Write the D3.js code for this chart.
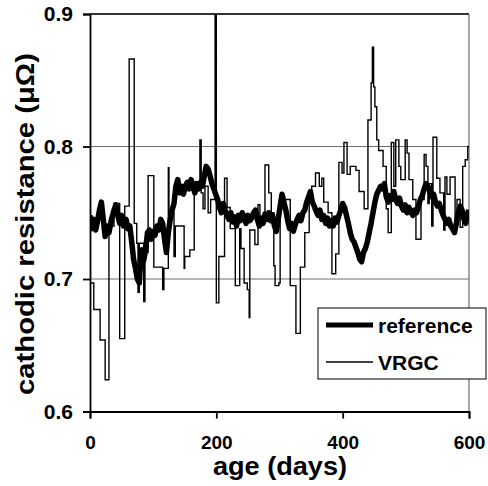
<!DOCTYPE html>
<html>
<head>
<meta charset="utf-8">
<script src="https://cdnjs.cloudflare.com/ajax/libs/d3/7.8.5/d3.min.js"></script>
<style>
    body { margin: 0; background: #fff; }
    text { font-family: "Liberation Sans", Arial, sans-serif; font-weight: bold; fill: #000; }
</style>
</head>
<body>
<div id="chart"></div>
<script>

// values (day, resistance in micro-ohm)
var refDays = [0, 3, 6, 9, 12, 15, 18, 21, 24, 27, 30, 34, 38, 41, 44, 47, 50, 53, 57, 60,
    63, 66, 69, 72, 75, 78, 80, 82, 85, 88, 91, 94, 97, 100, 103, 106, 109, 112, 115, 118,
    121, 124, 127, 130, 133, 136, 139, 142, 145, 148, 151, 154, 157, 160, 163, 166, 169, 172, 175, 178,
    181, 184, 187, 190, 193, 196, 199, 202, 205, 208, 211, 214, 217, 220, 223, 226, 229, 232, 235, 238,
    241, 244, 247, 250, 253, 256, 259, 262, 265, 268, 271, 274, 277, 280, 283, 286, 289, 292, 295, 298,
    301, 304, 307, 310, 313, 316, 319, 322, 325, 328, 331, 334, 337, 340, 343, 346, 349, 352, 355, 358,
    361, 364, 367, 370, 373, 376, 379, 382, 385, 388, 391, 394, 397, 400, 403, 406, 409, 412, 415, 418,
    421, 424, 427, 430, 433, 436, 439, 442, 445, 448, 451, 454, 457, 460, 463, 466, 469, 472, 475, 478,
    481, 484, 487, 490, 493, 496, 499, 502, 505, 508, 511, 514, 517, 520, 523, 526, 529, 532, 535, 538,
    541, 544, 547, 550, 553, 556, 559, 562, 565, 568, 571, 574, 577, 580, 583, 586, 589, 592, 595, 598, 600];
var refValues = [0.748, 0.738, 0.745, 0.737, 0.744, 0.752, 0.758, 0.745, 0.732, 0.740, 0.735, 0.745, 0.752, 0.756, 0.748, 0.742, 0.748, 0.740, 0.745, 0.738,
    0.740, 0.728, 0.715, 0.708, 0.700, 0.697, 0.712, 0.722, 0.714, 0.722, 0.735, 0.737, 0.730, 0.736, 0.733, 0.740, 0.737, 0.745, 0.742, 0.730,
    0.720, 0.735, 0.745, 0.752, 0.757, 0.770, 0.775, 0.765, 0.770, 0.764, 0.770, 0.773, 0.768, 0.775, 0.770, 0.765, 0.772, 0.768, 0.773, 0.770,
    0.778, 0.785, 0.783, 0.778, 0.772, 0.768, 0.764, 0.760, 0.754, 0.750, 0.757, 0.752, 0.748, 0.745, 0.750, 0.743, 0.747, 0.740, 0.748, 0.744,
    0.750, 0.746, 0.742, 0.748, 0.744, 0.746, 0.750, 0.752, 0.745, 0.740, 0.746, 0.742, 0.749, 0.745, 0.750, 0.744, 0.748, 0.740, 0.736, 0.745,
    0.755, 0.764, 0.758, 0.752, 0.744, 0.738, 0.742, 0.736, 0.741, 0.745, 0.748, 0.744, 0.750, 0.752, 0.758, 0.762, 0.766, 0.758, 0.755, 0.751,
    0.748, 0.752, 0.745, 0.748, 0.742, 0.746, 0.740, 0.744, 0.740, 0.746, 0.743, 0.748, 0.752, 0.757, 0.754, 0.748, 0.742, 0.735, 0.730, 0.728,
    0.724, 0.720, 0.715, 0.713, 0.720, 0.723, 0.728, 0.735, 0.742, 0.750, 0.758, 0.764, 0.767, 0.770, 0.768, 0.772, 0.762, 0.758, 0.763, 0.760,
    0.766, 0.760, 0.757, 0.761, 0.755, 0.752, 0.756, 0.750, 0.754, 0.751, 0.748, 0.752, 0.750, 0.755, 0.760, 0.763, 0.768, 0.772, 0.770, 0.766,
    0.762, 0.764, 0.758, 0.755, 0.757, 0.752, 0.748, 0.745, 0.742, 0.745, 0.740, 0.738, 0.735, 0.742, 0.750, 0.755, 0.752, 0.745, 0.742, 0.750, 0.752];

var vrgcDays = [0, 6, 16, 24, 30, 38, 47, 55, 62, 70, 74, 76, 78, 85, 87, 92, 101, 115, 117, 124,
    125, 133, 135, 149, 150, 158, 165, 174, 176, 179, 182, 187, 191, 198, 200, 204, 213, 217, 222, 230,
    237, 239, 244, 249, 252, 253, 261, 266, 269, 277, 283, 287, 291, 293, 299, 301, 307, 317, 326, 333,
    340, 347, 351, 357, 363, 367, 370, 377, 383, 389, 394, 399, 402, 407, 412, 421, 426, 434, 440, 445,
    447, 449, 451, 454, 457, 464, 469, 472, 477, 481, 484, 489, 492, 499, 502, 505, 511, 516, 524, 529,
    532, 535, 537, 541, 543, 549, 554, 560, 562, 565, 570, 578, 581, 586, 590, 594, 598, 600];
var vrgcValues = [0.697, 0.677, 0.654, 0.624, 0.740, 0.757, 0.655, 0.755, 0.866, 0.742, 0.727, 0.690, 0.727, 0.683, 0.720, 0.778, 0.709, 0.692, 0.708, 0.784,
    0.750, 0.717, 0.740, 0.708, 0.717, 0.722, 0.773, 0.805, 0.765, 0.753, 0.770, 0.750, 0.760, 0.950, 0.682, 0.717, 0.776, 0.754, 0.738, 0.695,
    0.738, 0.723, 0.697, 0.692, 0.671, 0.737, 0.726, 0.756, 0.745, 0.786, 0.765, 0.750, 0.710, 0.695, 0.697, 0.756, 0.760, 0.695, 0.659, 0.709,
    0.735, 0.762, 0.770, 0.780, 0.770, 0.776, 0.758, 0.750, 0.704, 0.719, 0.788, 0.780, 0.803, 0.779, 0.785, 0.782, 0.766, 0.753, 0.820, 0.848,
    0.875, 0.845, 0.830, 0.805, 0.797, 0.785, 0.753, 0.735, 0.803, 0.770, 0.805, 0.785, 0.775, 0.805, 0.795, 0.775, 0.760, 0.730, 0.760, 0.794,
    0.785, 0.757, 0.772, 0.740, 0.807, 0.776, 0.765, 0.737, 0.777, 0.764, 0.777, 0.742, 0.760, 0.739, 0.785, 0.790, 0.800, 0.800];

var seriesNames = ["reference", "VRGC"];
var xTickValues = [0, 200, 400, 600];
var yTickValues = [0.6, 0.7, 0.8, 0.9];
var gridValues = [0.7, 0.8];


/*
 * LineChart - Object constructor function
 * @param _parentElement 	-- the HTML element in which to draw the visualization
 */

LineChart = function(_parentElement){
    this.parentElement = _parentElement;

    this.initVis();
}


LineChart.prototype.initVis = function(){
    var vis = this;

    vis.margin = { top: 14, right: 19, bottom: 74.5, left: 90 };

    vis.width = 488 - vis.margin.left - vis.margin.right;
    vis.height = 486 - vis.margin.top - vis.margin.bottom;

    vis.root = d3.select("#" + vis.parentElement).append("svg")
        .attr("width", 488)
        .attr("height", 486);

    vis.svg = vis.root.append("g")
        .attr("transform", "translate(" + vis.margin.left + "," + vis.margin.top + ")");

    vis.x = d3.scaleLinear()
        .domain([0, 600])
        .range([0, vis.width]);

    vis.y = d3.scaleLinear()
        .domain([0.6, 0.9])
        .range([vis.height, 0]);

    vis.svg.append("clipPath")
        .attr("id", "plot-clip")
        .append("rect")
        .attr("width", vis.width)
        .attr("height", vis.height);

    // gridlines + frame
    vis.svg.selectAll(".grid")
        .data(gridValues)
        .enter().append("line")
        .attr("class", "grid")
        .attr("x1", 0)
        .attr("x2", vis.width)
        .attr("y1", function(d) { return vis.y(d); })
        .attr("y2", function(d) { return vis.y(d); })
        .attr("stroke", "#6e6e6e")
        .attr("stroke-width", 1.2);

    vis.svg.append("line")
        .attr("x1", 0).attr("x2", vis.width)
        .attr("y1", vis.y(0.9)).attr("y2", vis.y(0.9))
        .attr("stroke", "#333")
        .attr("stroke-width", 1.8);

    vis.svg.append("line")
        .attr("x1", vis.width).attr("x2", vis.width)
        .attr("y1", 0).attr("y2", vis.height)
        .attr("stroke", "#6e6e6e")
        .attr("stroke-width", 1.2);

    vis.xAxis = d3.axisBottom(vis.x)
        .tickValues(xTickValues)
        .tickSize(7)
        .tickPadding(17);

    vis.yAxis = d3.axisLeft(vis.y)
        .tickValues(yTickValues)
        .tickFormat(d3.format(".1f"))
        .tickSize(7)
        .tickPadding(10);

    vis.xAxisGroup = vis.svg.append("g")
        .attr("class", "x-axis")
        .attr("transform", "translate(0," + vis.height + ")");

    vis.yAxisGroup = vis.svg.append("g")
        .attr("class", "y-axis");

    // axis titles
    vis.svg.append("text")
        .attr("x", 190)
        .attr("y", vis.height + 63)
        .attr("text-anchor", "middle")
        .attr("textLength", 134)
        .attr("lengthAdjust", "spacingAndGlyphs")
        .style("font-size", "25px")
        .text("age (days)");

    vis.svg.append("text")
        .attr("transform", "translate(" + (-56) + "," + 210 + ") rotate(-90)")
        .attr("text-anchor", "middle")
        .attr("textLength", 342)
        .attr("lengthAdjust", "spacingAndGlyphs")
        .style("font-size", "26px")
        .text("cathodic resistance (μΩ)");

    vis.wrangleData();
}


LineChart.prototype.wrangleData = function(){
    var vis = this;

    vis.refData = refDays.map(function(d, i) { return { day: d, value: refValues[i] }; });
    vis.vrgcData = vrgcDays.map(function(d, i) { return { day: d, value: vrgcValues[i] }; });

    vis.updateVis();
}


LineChart.prototype.updateVis = function(){
    var vis = this;

    var stepLine = d3.line()
        .curve(d3.curveStepAfter)
        .x(function(d) { return vis.x(d.day); })
        .y(function(d) { return vis.y(d.value); });

    var refLine = d3.line()
        .x(function(d) { return vis.x(d.day); })
        .y(function(d) { return vis.y(d.value); });

    var plot = vis.svg.append("g").attr("clip-path", "url(#plot-clip)");

    plot.append("path")
        .datum(vis.vrgcData)
        .attr("d", stepLine)
        .attr("fill", "none")
        .attr("stroke", "#000")
        .attr("stroke-width", 1.4);

    plot.append("path")
        .datum(vis.refData)
        .attr("d", refLine)
        .attr("fill", "none")
        .attr("stroke", "#000")
        .attr("stroke-width", 5.5)
        .attr("stroke-linejoin", "round");

    vis.xAxisGroup.call(vis.xAxis);
    vis.yAxisGroup.call(vis.yAxis);

    vis.svg.selectAll(".x-axis text").style("font-size", "19px");
    vis.svg.selectAll(".y-axis text").style("font-size", "21px");
    vis.svg.selectAll(".x-axis path, .y-axis path, .tick line")
        .attr("stroke", "#000")
        .attr("stroke-width", 1.8);

    // legend (drawn in page coordinates, over the right frame)
    var legend = vis.root.append("g")
        .attr("transform", "translate(318,308)");

    legend.append("rect")
        .attr("width", 168)
        .attr("height", 71)
        .attr("fill", "#fff")
        .attr("stroke", "#000")
        .attr("stroke-width", 1);

    var items = legend.selectAll(".item")
        .data(seriesNames)
        .enter().append("g")
        .attr("class", "item")
        .attr("transform", function(d, i) { return "translate(0," + (17 + i * 37) + ")"; });

    items.append("line")
        .attr("x1", 8).attr("x2", 55)
        .attr("stroke", "#000")
        .attr("stroke-width", function(d, i) { return i === 0 ? 5 : 1.4; });

    items.append("text")
        .attr("x", 60)
        .attr("dy", "0.36em")
        .style("font-size", "21px")
        .text(function(d) { return d; });
}

new LineChart("chart");

</script>
</body>
</html>
